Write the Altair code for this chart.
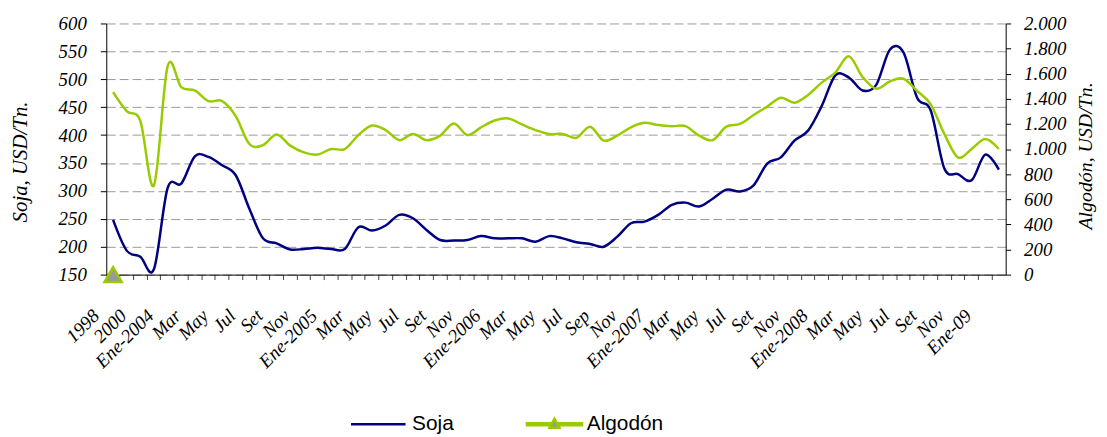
import json
import altair as alt
import pandas as pd

# ---------------- data ----------------
categorias = (
    ["1998", "1999", "2000", "2003"]
    + ["Ene-2004", "Feb", "Mar", "Abr", "May", "Jun", "Jul", "Ago", "Set", "Oct", "Nov", "Dic"]
    + ["Ene-2005", "Feb", "Mar", "Abr", "May", "Jun", "Jul", "Ago", "Set", "Oct", "Nov", "Dic"]
    + ["Ene-2006", "Feb", "Mar", "Abr", "May", "Jun", "Jul", "Ago", "Sep", "Oct", "Nov", "Dic"]
    + ["Ene-2007", "Feb", "Mar", "Abr", "May", "Jun", "Jul", "Ago", "Set", "Oct", "Nov", "Dic"]
    + ["Ene-2008", "Feb", "Mar", "Abr", "May", "Jun", "Jul", "Ago", "Set", "Oct", "Nov", "Dic"]
    + ["Ene-09", "Feb"]
)

soja = [248, 193, 182, 160, 305, 313, 362, 361, 346, 328, 268, 215, 206, 195, 196, 198,
        196, 196, 235, 229, 238, 257, 251, 230, 212, 211, 212, 219, 215, 215, 215, 209,
        219, 215, 208, 205, 200, 218, 242, 245, 257, 275, 279, 272, 286, 302, 299, 310,
        349, 360, 390, 408, 452, 507, 503, 480, 490, 553, 548, 467, 444, 340, 330, 319,
        365, 338]

algodon = [1453, 1302, 1222, 711, 1658, 1493, 1467, 1382, 1382, 1262, 1040, 1031, 1116,
           1027, 973, 956, 1000, 1000, 1111, 1187, 1151, 1071, 1120, 1071, 1107, 1204,
           1111, 1173, 1227, 1244, 1196, 1151, 1120, 1120, 1089, 1178, 1067, 1107, 1173,
           1209, 1191, 1182, 1182, 1107, 1071, 1178, 1200, 1271, 1338, 1409, 1369, 1431,
           1529, 1609, 1738, 1573, 1480, 1538, 1560, 1462, 1356, 1120, 933, 1000, 1080,
           1000]

series = ["Soja", "Algodón"]
colores = ["#000080", "#99CC00"]
soja_ticks = [150, 200, 250, 300, 350, 400, 450, 500, 550, 600]
algodon_ticks = [0, 200, 400, 600, 800, 1000, 1200, 1400, 1600, 1800, 2000]
marcador_algodon = [0]  # single triangle marker of the Algodón series

df = pd.DataFrame({"idx": list(range(len(categorias))), "cat": categorias,
                   "soja": soja, "algodon": algodon})
marker_df = pd.DataFrame({"idx": [0], "valor": marcador_algodon})
legend_df = pd.DataFrame({"serie": series, "idx": [0, 0], "valor": [0, 0]})

# ---------------- styling ----------------
SERIF = "Liberation Serif"
SANS = "Liberation Sans"

label_expr = "datum.value % 2 == 0 ? " + json.dumps(categorias) + "[datum.value] : ''"

x_enc = alt.X(
    "idx:O",
    scale=alt.Scale(type="band", paddingInner=0, paddingOuter=0),
    axis=alt.Axis(
        title=None, labelExpr=label_expr, bandPosition=0, labelAngle=315,
        labelAlign="right", labelBaseline="middle", labelPadding=33, labelOffset=-17,
        tickSize=5, labelOverlap=False, labelBound=False, labelFlush=False,
        domainColor="black", tickColor="#444444", labelColor="black",
        labelFont=SERIF, labelFontSize=19, labelFontStyle="italic", grid=False,
    ),
)

left_scale = alt.Scale(domain=[150, 600], nice=False, zero=False)
right_scale = alt.Scale(domain=[0, 2000], nice=False, zero=False)

left_axis = alt.Axis(
    values=soja_ticks, title="Soja, USD/Tn.", titleAngle=270, titleX=-86, titleY=139,
    titleAlign="center", titleBaseline="middle", titleFont=SERIF, titleFontSize=21,
    titleFontStyle="italic", titleFontWeight="normal", titleColor="black",
    labelFont=SERIF, labelFontSize=19, labelFontStyle="italic", labelColor="black",
    labelPadding=14, tickSize=6, domainColor="black", tickColor="black",
    grid=True, gridDash=[9, 4], gridColor="#9a9a9a", gridWidth=1,
)

right_axis = alt.Axis(
    orient="right", values=algodon_ticks,
    labelExpr="replace(format(datum.value, ','), ',', '.')",
    title="Algodón, USD/Tn.", titleAngle=270, titleX=80, titleY=133,
    titleAlign="center", titleBaseline="middle", titleFont=SERIF, titleFontSize=20,
    titleFontStyle="italic", titleFontWeight="normal", titleColor="black",
    labelFont=SERIF, labelFontSize=19, labelFontStyle="italic", labelColor="black",
    labelPadding=13, tickSize=5, domainColor="black", tickColor="black", grid=False,
)

path_soja = "M-1,0L4.5,0"
path_algodon = ("M-1,-0.1L1.6,-0.1M-1,0.1L1.6,0.1M2.2,-0.1L4.8,-0.1M2.2,0.1L4.8,0.1"
                "M1.9,-0.55L2.4,0.35L1.4,0.35Z")

legend_def = alt.Legend(
    title=None, orient="none", legendX=245, legendY=392, direction="horizontal",
    symbolSize=400, symbolStrokeWidth=2.5, symbolOpacity=1, symbolFillColor="#999999",
    labelOffset=40, columnPadding=66, labelFont=SANS, labelFontSize=21,
    labelColor="black", padding=0,
)

# ---------------- layers ----------------
soja_line = alt.Chart(df).mark_line(
    color=colores[0], strokeWidth=2.5, interpolate="cardinal"
).encode(x=x_enc, y=alt.Y("soja:Q", scale=left_scale, axis=left_axis))

alg_line = alt.Chart(df).mark_line(
    color=colores[1], strokeWidth=2.5, interpolate="cardinal"
).encode(x=x_enc, y=alt.Y("algodon:Q", scale=right_scale, axis=right_axis))

marker = alt.Chart(marker_df).mark_point(
    shape="triangle-up", size=300, filled=True, fill="#999999",
    stroke=colores[1], strokeWidth=2.5, opacity=1,
).encode(x=x_enc, y=alt.Y("valor:Q", scale=right_scale, axis=right_axis))

carrier = alt.Chart(legend_df).mark_point(
    opacity=0, filled=False, fill="#999999", strokeWidth=2.5, size=400,
).encode(
    x=x_enc,
    y=alt.Y("valor:Q", scale=right_scale, axis=right_axis),
    color=alt.Color("serie:N", scale=alt.Scale(domain=series, range=colores), legend=legend_def),
    shape=alt.Shape("serie:N", scale=alt.Scale(domain=series, range=[path_soja, path_algodon]),
                    legend=legend_def),
)

right_group = alt.layer(alg_line, carrier, marker)

chart = alt.layer(soja_line, right_group).resolve_scale(y="independent").properties(
    width=906, height=253,
    autosize=alt.AutoSizeParams(type="none"),
    padding={"left": 99, "top": 14, "right": 94, "bottom": 162},
    background="white",
).configure_view(stroke=None)

chart.save("out.html", embed_options={"renderer": "svg", "actions": False})
